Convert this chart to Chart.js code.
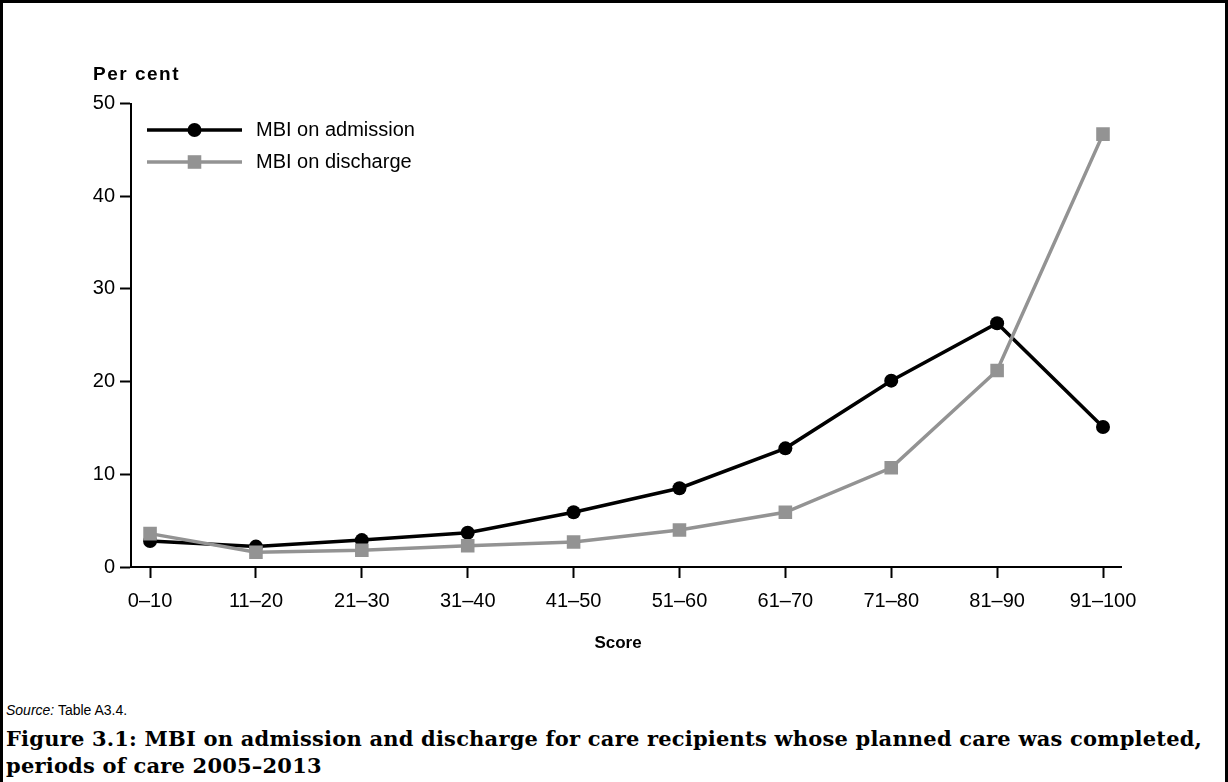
<!DOCTYPE html>
<html>
<head>
<meta charset="utf-8">
<script src="https://cdn.jsdelivr.net/npm/chart.js@4.4.1/dist/chart.umd.min.js"></script>
<style>
    html, body { margin: 0; padding: 0; background: #fff; overflow: hidden; }
    #frame {
        position: absolute; left: 0; top: 0; width: 1228px; height: 820px;
        box-sizing: border-box; border: 3px solid #000; border-bottom: none;
    }
    #chartWrap { position: absolute; left: 0; top: 0; width: 1228px; height: 680px; }
    #source {
        position: absolute; left: 6px; top: 702px;
        font: 14px 'Liberation Sans', Arial, sans-serif; color: #000;
    }
    #source i { font-style: italic; }
    #caption {
        position: absolute; left: 6px; top: 725px; width: 1218px;
        font: bold 21px 'DejaVu Serif', serif; line-height: 27px; color: #000;
        letter-spacing: 0.2px;
    }
</style>
</head>
<body>
<div id="frame"></div>
<div id="chartWrap"><canvas id="mbiChart" width="1228" height="680"></canvas></div>
<div id="source"><i>Source:</i> Table A3.4.</div>
<div id="caption">Figure 3.1: MBI on admission and discharge for care recipients whose planned care was completed,<br>periods of care 2005–2013</div>

<script>
// --- DATEN ---
const SCORES = ['0–10', '11–20', '21–30', '31–40', '41–50', '51–60', '61–70', '71–80', '81–90', '91–100'];
const ADMISSION = [2.8, 2.2, 2.9, 3.7, 5.9, 8.5, 12.8, 20.1, 26.3, 15.1];
const DISCHARGE = [3.6, 1.6, 1.8, 2.3, 2.7, 4.0, 5.9, 10.7, 21.2, 46.7];
const Y_TICKS = [0, 10, 20, 30, 40, 50];

const SANS = "'Liberation Sans', Arial, sans-serif";
const GREY = '#939393';

const toPoints = arr => arr.map((v, i) => ({ x: i, y: v }));

// Legende im Diagramm + Achsentitel
const labelPlugin = {
    id: 'labels',
    afterDraw(chart) {
        const { ctx, chartArea } = chart;
        ctx.save();
        ctx.fillStyle = '#000';
        ctx.textBaseline = 'middle';

        // "Per cent"
        ctx.font = `bold 19px ${SANS}`;
        ctx.letterSpacing = '1.5px';
        ctx.textAlign = 'left';
        ctx.fillText('Per cent', chartArea.left - 38, chartArea.top - 29);

        // "Score"
        ctx.font = `bold 17px ${SANS}`;
        ctx.letterSpacing = '0px';
        ctx.textAlign = 'center';
        ctx.fillText('Score', (chartArea.left + chartArea.right) / 2 - 8, chartArea.bottom + 76);

        // Legende
        chart.data.datasets.forEach((ds, i) => {
            const y = chartArea.top + 26.5 + i * 32;
            const x0 = chartArea.left + 16;
            const x1 = chartArea.left + 111;
            ctx.strokeStyle = ds.borderColor;
            ctx.lineWidth = ds.borderWidth;
            ctx.beginPath();
            ctx.moveTo(x0, y);
            ctx.lineTo(x1, y);
            ctx.stroke();
            ctx.fillStyle = ds.pointBackgroundColor;
            Chart.helpers.drawPoint(ctx, {
                pointStyle: ds.pointStyle, radius: ds.pointRadius, rotation: 0, borderWidth: 0
            }, (x0 + x1) / 2, y);
            ctx.fillStyle = '#000';
            ctx.font = `20px ${SANS}`;
            ctx.textAlign = 'left';
            ctx.fillText(ds.label, chartArea.left + 125, y);
        });
        ctx.restore();
    }
};

const axisGrid = {
    display: true,
    drawOnChartArea: false,
    drawTicks: true,
    tickLength: 11,
    tickWidth: 2,
    tickColor: '#000',
};

new Chart(document.getElementById('mbiChart').getContext('2d'), {
    type: 'line',
    plugins: [labelPlugin],
    data: {
        datasets: [
            {
                label: 'MBI on admission',
                data: toPoints(ADMISSION),
                borderColor: '#000',
                borderWidth: 3.5,
                pointStyle: 'circle',
                pointRadius: 7,
                pointBackgroundColor: '#000',
                pointBorderWidth: 0,
                order: 1,
            },
            {
                label: 'MBI on discharge',
                data: toPoints(DISCHARGE),
                borderColor: GREY,
                borderWidth: 3.5,
                pointStyle: 'rect',
                pointRadius: 9.6,
                pointBackgroundColor: GREY,
                pointBorderWidth: 0,
                order: 0,
            }
        ]
    },
    options: {
        responsive: false,
        animation: false,
        layout: { padding: { top: 103.5, right: 107, left: 0, bottom: 0 } },
        scales: {
            x: {
                type: 'linear',
                min: -0.18,
                max: 9.17,
                afterBuildTicks(scale) { scale.ticks = SCORES.map((s, i) => ({ value: i })); },
                afterFit(scale) { scale.height = 680 - 567; },
                border: { display: true, color: '#000', width: 2 },
                grid: axisGrid,
                ticks: {
                    autoSkip: false,
                    maxRotation: 0,
                    padding: 11,
                    color: '#000',
                    font: { family: SANS, size: 20 },
                    callback: v => SCORES[v],
                }
            },
            y: {
                min: 0,
                max: 50,
                afterBuildTicks(scale) { scale.ticks = Y_TICKS.map(v => ({ value: v })); },
                afterFit(scale) { scale.width = 131; },
                border: { display: true, color: '#000', width: 2 },
                grid: axisGrid,
                ticks: {
                    padding: 5,
                    color: '#000',
                    font: { family: SANS, size: 20 },
                }
            }
        },
        plugins: {
            legend: { display: false },
            tooltip: { enabled: false },
        }
    }
});
</script>
</body>
</html>
